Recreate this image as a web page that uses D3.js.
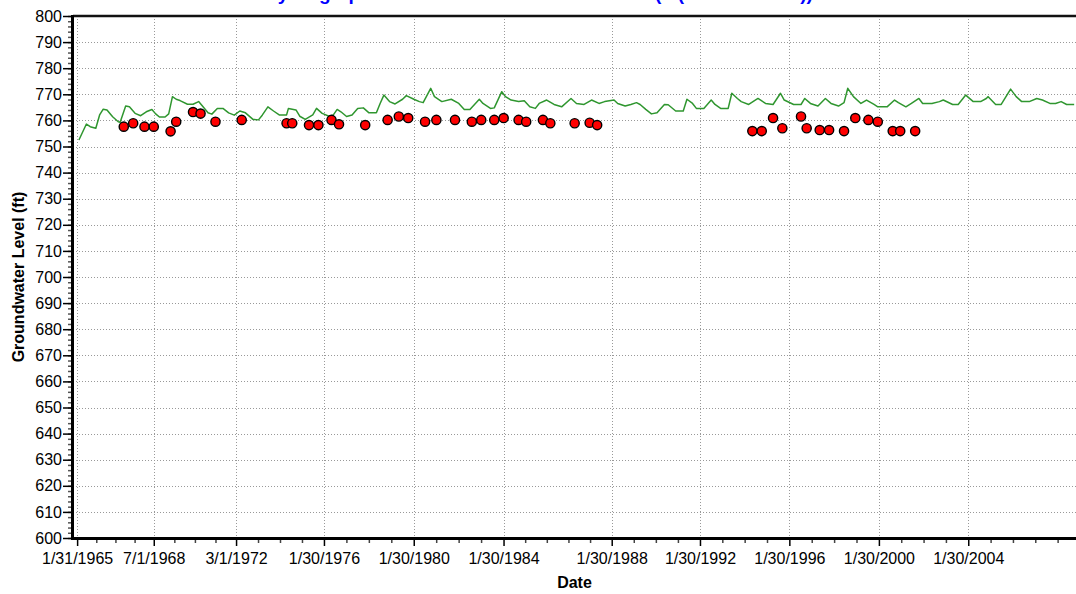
<!DOCTYPE html>
<html>
<head>
<meta charset="utf-8">
<script src="https://cdn.jsdelivr.net/npm/d3@7/dist/d3.min.js"></script>
<style>
  body { margin: 0; background: #fff; }
  svg { display: block; font-family: Arial, "Liberation Sans", sans-serif; }
</style>
</head>
<body>
<div id="chart"></div>
<script>
// simulated heads (green line)
var simDates = ["1965-03","1965-07","1965-09","1965-12","1966-02","1966-04","1966-06","1966-09","1966-12","1967-01","1967-04","1967-06","1967-09","1967-12","1968-03","1968-06","1968-08","1968-10","1969-01","1969-03","1969-05","1969-07","1969-09","1970-01","1970-04","1970-07","1970-09","1970-12","1971-02","1971-05","1971-08","1971-11","1972-02","1972-05","1972-08","1972-12","1973-03","1973-05","1973-08","1973-11","1974-02","1974-06","1974-07","1974-11","1975-01","1975-04","1975-08","1975-10","1976-01","1976-05","1976-07","1976-09","1976-11","1977-02","1977-05","1977-08","1977-11","1978-02","1978-06","1978-08","1978-10","1979-01","1979-04","1979-08","1979-10","1980-02","1980-05","1980-07","1980-11","1981-01","1981-05","1981-10","1982-02","1982-05","1982-08","1983-01","1983-03","1983-07","1983-09","1984-01","1984-03","1984-06","1984-10","1985-01","1985-04","1985-07","1985-09","1986-01","1986-05","1986-09","1987-02","1987-05","1987-09","1988-01","1988-05","1988-08","1989-01","1989-03","1989-07","1989-10","1990-01","1990-03","1990-06","1990-09","1990-12","1991-04","1991-06","1991-10","1992-02","1992-04","1992-07","1992-09","1993-01","1993-05","1993-07","1993-10","1994-02","1994-04","1994-07","1994-09","1995-01","1995-06","1995-10","1996-02","1996-06","1996-08","1997-01","1997-05","1997-07","1997-10","1998-02","1998-06","1998-09","1999-01","1999-04","1999-06","1999-09","2000-01","2000-04","2000-08","2000-10","2001-03","2001-07","2001-09","2002-01","2002-04","2002-08","2002-10","2003-03","2003-07","2003-09","2004-02","2004-05","2004-09","2005-01","2005-05","2005-08","2005-09","2006-01","2006-04","2006-09","2006-12","2007-03","2007-07","2007-11","2008-02","2008-06","2008-09","2008-12","2009-03","2009-07"];
var simHeads = [752.5,758.6,757.6,757.0,762.1,764.3,764.0,761.4,759.5,759.3,765.5,765.2,762.7,761.8,763.3,764.2,762.5,761.3,761.3,762.5,769.1,768.1,767.6,766.2,766.2,767.2,765.5,762.9,762.4,764.6,764.6,762.9,762.0,763.6,762.9,760.4,760.2,762.0,765.2,763.6,762.1,762.1,764.6,764.0,761.6,760.4,762.1,764.6,762.7,761.5,762.1,764.2,763.3,761.5,762.1,764.6,764.8,762.9,762.9,766.5,769.7,767.2,766.3,768.1,769.5,768.1,767.2,766.8,772.3,769.1,767.2,768.1,766.5,764.2,764.2,768.1,766.5,764.6,764.8,771.0,769.1,767.8,767.2,767.5,765.2,764.6,766.5,767.8,766.1,765.2,768.4,766.5,766.1,767.8,766.5,767.2,767.8,766.5,765.5,766.1,766.8,766.1,764.2,762.5,762.9,766.1,766.0,763.6,763.6,768.1,766.5,764.6,764.6,767.8,766.1,764.6,764.6,770.4,768.4,767.2,766.1,768.4,766.5,766.1,770.4,767.8,766.1,766.1,768.4,766.5,765.5,768.4,766.5,765.5,766.8,772.3,769.1,766.5,767.8,766.1,765.2,765.2,767.8,766.8,765.2,766.5,768.4,766.5,766.5,767.2,767.8,766.1,766.1,769.7,767.2,767.2,768.4,769.1,766.1,766.1,772.0,769.1,767.2,767.2,768.4,767.8,766.5,766.5,767.2,766.1,766.1];

// observed heads (red dots)
var obsDates = ["1967-03","1967-08","1968-02","1968-07","1969-04","1969-07","1970-04","1970-08","1971-04","1972-06","1974-06","1974-09","1975-06","1975-11","1976-06","1976-10","1977-12","1978-12","1979-06","1979-11","1980-08","1981-02","1981-12","1982-09","1983-02","1983-09","1984-02","1984-10","1985-02","1985-11","1986-03","1987-04","1987-12","1988-04","1995-03","1995-08","1996-02","1996-07","1997-05","1997-08","1998-03","1998-08","1999-04","1999-10","2000-05","2000-10","2001-06","2001-10","2002-06"];
var obsHeads = [757.6,758.9,757.6,757.6,755.8,759.5,763.2,762.6,759.5,760.2,758.9,758.9,758.2,758.2,760.2,758.5,758.2,760.2,761.5,760.9,759.5,760.2,760.2,759.5,760.2,760.2,760.9,760.2,759.5,760.2,758.9,758.9,759.1,758.2,755.9,755.9,760.9,757.0,761.5,757.0,756.3,756.3,755.9,760.9,760.2,759.5,755.9,755.9,755.9];

// x axis ticks: where they sit, and what they say
var xTickDates = ["1965-01-31","1968-07-01","1972-03-01","1976-01-30","1980-01-30","1984-01-30","1988-11-24","1992-10-30","1996-10-23","2000-10-19","2004-10-12"];
var xTickLabels = ["1/31/1965","7/1/1968","3/1/1972","1/30/1976","1/30/1980","1/30/1984","1/30/1988","1/30/1992","1/30/1996","1/30/2000","1/30/2004"];
var xMinorSplits = [4,4,4,4,4,5,4,4,4,4];
var xDomain = ["1964-11-25","2009-07-31"];
var yTicks = d3.range(600, 801, 10);
var yMinor = d3.range(600, 801, 2);

var titleText = "Hydrograph for Observation Well MW-1086 (L (Shallow Drift))";

var width = 1076, height = 594;
var mLeft = 73, mRight = 1076, mTop = 16, mBottom = 538;

var parseMonth = d3.timeParse("%Y-%m");
var parseDay = d3.timeParse("%Y-%m-%d");

var x = d3.scaleTime()
	.domain(xDomain.map(parseDay))
	.range([mLeft, mRight]);
var y = d3.scaleLinear()
	.domain([600, 800])
	.range([mBottom, mTop]);

var majors = xTickDates.map(parseDay);
var minors = [];
xMinorSplits.forEach(function(n, i) {
	var t0 = +majors[i], t1 = +majors[i + 1];
	for (var k = 1; k < n; k++) minors.push(new Date(t0 + (t1 - t0) * k / n));
});
// keep going past the last label at the same step
var lastStep = (majors[10] - majors[9]) / 4;
for (var t = +majors[10] + lastStep; t < +x.domain()[1]; t += lastStep) minors.push(new Date(t));

var svg = d3.select("#chart").append("svg")
	.attr("width", width)
	.attr("height", height);

svg.append("rect").attr("width", width).attr("height", height).attr("fill", "#fff");

// title (mostly above the window)
svg.append("text")
	.attr("x", 264)
	.attr("y", 0)
	.attr("font-size", "19px")
	.attr("font-weight", "bold")
	.attr("fill", "#0000ff")
	.text(titleText);

// grid
var grid = svg.append("g")
	.attr("stroke", "#999")
	.attr("stroke-width", 1)
	.attr("stroke-dasharray", "1,2");

grid.selectAll(".hg")
	.data(yTicks.filter(function(d) { return d > 600 && d < 800; }))
	.enter().append("line")
	.attr("x1", mLeft).attr("x2", mRight)
	.attr("y1", function(d) { return Math.round(y(d)) + 0.5; })
	.attr("y2", function(d) { return Math.round(y(d)) + 0.5; });

grid.selectAll(".vg")
	.data(majors)
	.enter().append("line")
	.attr("x1", function(d) { return Math.round(x(d)) + 0.5; })
	.attr("x2", function(d) { return Math.round(x(d)) + 0.5; })
	.attr("y1", mTop).attr("y2", mBottom);

// simulated line
var line = d3.line()
	.x(function(d, i) { return x(parseMonth(d)); })
	.y(function(d, i) { return y(simHeads[i]); });

svg.append("path")
	.datum(simDates)
	.attr("d", line)
	.attr("fill", "none")
	.attr("stroke", "#2f962f")
	.attr("stroke-width", 1.5)
	.attr("stroke-linejoin", "round");

// observed points
svg.selectAll(".obs")
	.data(obsDates)
	.enter().append("circle")
	.attr("cx", function(d) { return x(parseMonth(d)); })
	.attr("cy", function(d, i) { return y(obsHeads[i]); })
	.attr("r", 4.6)
	.attr("fill", "#ff0000")
	.attr("stroke", "#000")
	.attr("stroke-width", 1.4);

// axes
var xMajor = svg.append("g")
	.attr("transform", "translate(0," + mBottom + ")")
	.call(d3.axisBottom(x).tickValues(majors).tickSize(8).tickPadding(7)
		.tickFormat(function(d, i) { return xTickLabels[i]; }));
var xMin = svg.append("g")
	.attr("transform", "translate(0," + mBottom + ")")
	.call(d3.axisBottom(x).tickValues(minors).tickSize(5).tickFormat(""));

var yMin = svg.append("g")
	.attr("transform", "translate(" + (mLeft - 1) + ",0)")
	.call(d3.axisLeft(y).tickValues(yMinor).tickSize(4).tickFormat(""));
var yMajor = svg.append("g")
	.attr("transform", "translate(" + (mLeft - 1) + ",0)")
	.call(d3.axisLeft(y).tickValues(yTicks).tickSize(9).tickPadding(1));

[xMajor, xMin, yMin, yMajor].forEach(function(g) {
	g.select(".domain").remove();
	g.selectAll("text").attr("font-size", "16px").attr("fill", "#000").attr("font-family", "Arial, 'Liberation Sans', sans-serif");
});
xMajor.selectAll(".tick line").attr("stroke", "#000").attr("stroke-width", 1.5);
xMin.selectAll(".tick line").attr("stroke", "#444").attr("stroke-width", 1.5);
yMajor.selectAll(".tick line").attr("stroke", "#000").attr("stroke-width", 1.5);
yMin.selectAll(".tick line").attr("stroke", "#555").attr("stroke-width", 1.5);

// frame lines
svg.append("line").attr("x1", mLeft).attr("x2", mRight).attr("y1", mTop).attr("y2", mTop)
	.attr("stroke", "#111").attr("stroke-width", 2.5);
svg.append("line").attr("x1", mLeft - 1.5).attr("x2", mRight).attr("y1", mBottom + 0.5).attr("y2", mBottom + 0.5)
	.attr("stroke", "#000").attr("stroke-width", 3);
svg.append("line").attr("x1", mLeft - 0.5).attr("x2", mLeft - 0.5).attr("y1", mTop - 1).attr("y2", mBottom + 2)
	.attr("stroke", "#000").attr("stroke-width", 3);

// axis titles
svg.append("text")
	.attr("x", (mLeft + mRight) / 2)
	.attr("y", 588)
	.attr("text-anchor", "middle")
	.attr("font-size", "16px")
	.attr("font-weight", "bold")
	.text("Date");

svg.append("text")
	.attr("transform", "translate(24," + ((mTop + mBottom) / 2) + ") rotate(-90)")
	.attr("text-anchor", "middle")
	.attr("font-size", "16px")
	.attr("font-weight", "bold")
	.text("Groundwater Level (ft)");
</script>
</body>
</html>
